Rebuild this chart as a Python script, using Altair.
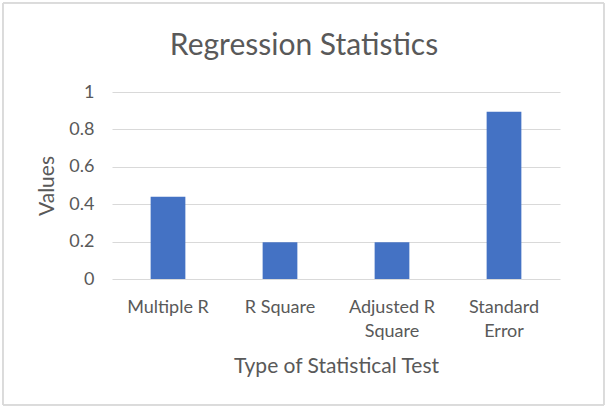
import altair as alt
import pandas as pd

categories = ["Multiple R", "R Square", "Adjusted R Square", "Standard Error"]
values = [0.44, 0.196, 0.196, 0.895]
title_text = ["Regression Statistics"]

df = pd.DataFrame({"test": categories, "value": values})
df_title = pd.DataFrame({"t": title_text})

FONT = "Lato"
GREY = "#595959"

label_expr = (
    "datum.value == 'Adjusted R Square' ? ['Adjusted R', 'Square'] : "
    "datum.value == 'Standard Error' ? ['Standard', 'Error'] : datum.value"
)

bars = alt.Chart(df).mark_bar(color="#4472C4").encode(
    x=alt.X(
        "test:N",
        sort=categories,
        scale=alt.Scale(paddingInner=0.69, paddingOuter=0.345),
        axis=alt.Axis(
            title="Type of Statistical Test",
            labelAngle=0,
            labelExpr=label_expr,
            labelFont=FONT,
            labelFontSize=18,
            labelColor=GREY,
            labelPadding=19,
            labelLineHeight=24,
            titleFont=FONT,
            titleFontSize=21,
            titleFontWeight="normal",
            titleColor=GREY,
            titlePadding=15,
            domain=False,
            ticks=False,
            grid=False,
        ),
    ),
    y=alt.Y(
        "value:Q",
        scale=alt.Scale(domain=[0, 1], nice=False),
        axis=alt.Axis(
            title="Values",
            values=[0, 0.2, 0.4, 0.6, 0.8, 1],
            format="~g",
            labelFont=FONT,
            labelFontSize=18,
            labelColor=GREY,
            labelPadding=18,
            titleFont=FONT,
            titleFontSize=21,
            titleFontWeight="normal",
            titleColor=GREY,
            titlePadding=11,
            domain=False,
            ticks=False,
            grid=True,
            gridColor="#d9d9d9",
            gridWidth=1,
        ),
    ),
)

title = alt.Chart(df_title).mark_text(
    font=FONT, fontSize=30, color=GREY, align="center", baseline="middle"
).encode(
    text="t:N", x=alt.value(192), y=alt.value(-46)
)

border = alt.Chart(df).mark_rect(
    fill=None, stroke="#d9d9d9", strokeWidth=1
).encode(
    x=alt.value(-109), x2=alt.value(492), y=alt.value(-89), y2=alt.value(313)
)

chart = alt.layer(border, title, bars).properties(
    width=448,
    height=187,
    autosize=alt.AutoSizeParams(type="none"),
    padding={"left": 112, "top": 92, "right": 48, "bottom": 130},
    background="white",
).configure_view(stroke=None)

chart.save("out.html", embed_options={"renderer": "svg", "actions": False})
